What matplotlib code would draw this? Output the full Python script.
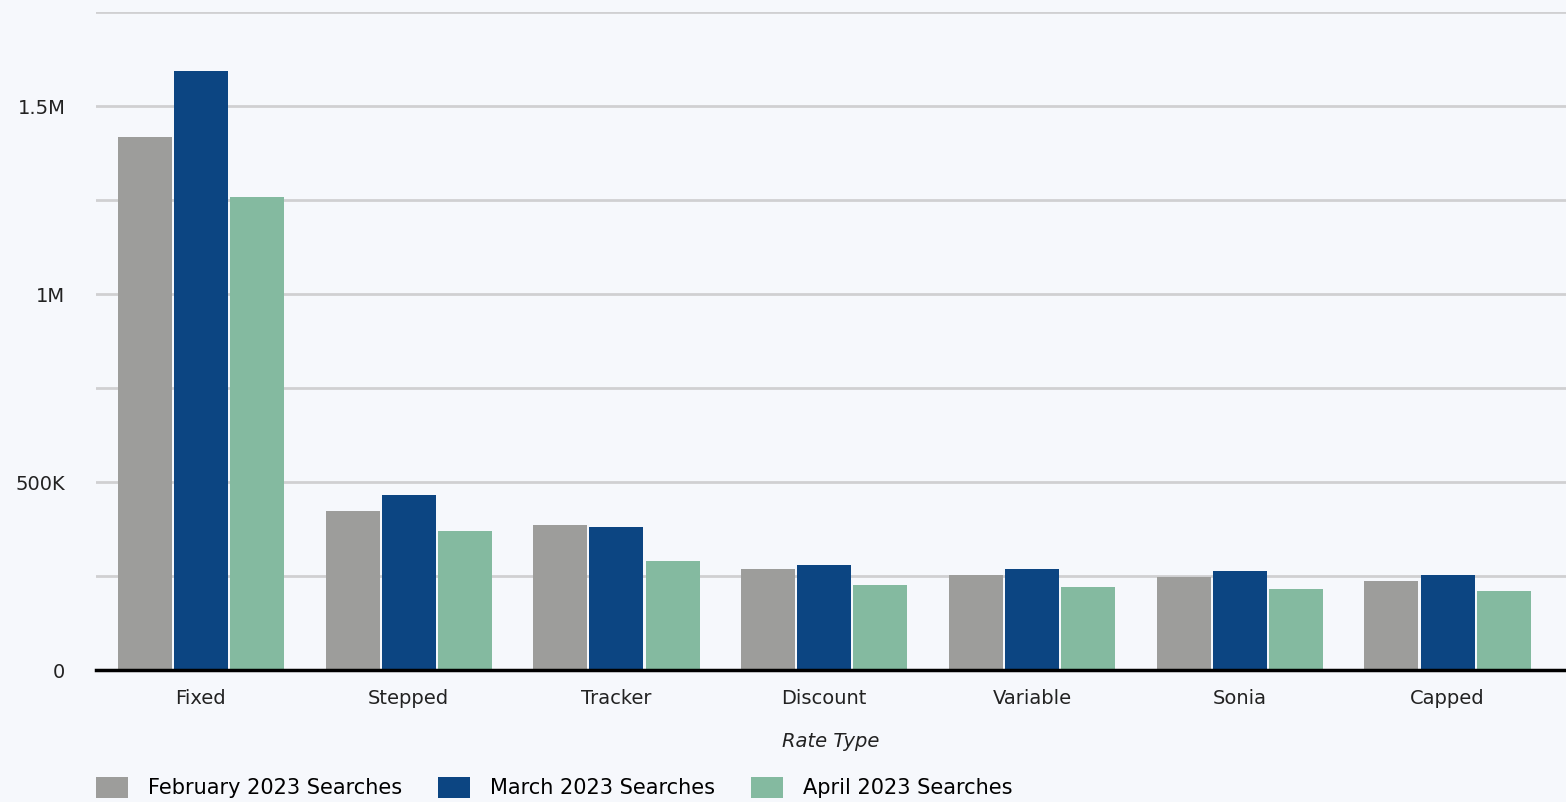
import numpy as np
import matplotlib.pyplot as plt
from matplotlib.ticker import FuncFormatter

# data
rate_types = ["Fixed", "Stepped", "Tracker", "Discount", "Variable", "Sonia", "Capped"]
feb_searches = [1418000, 423000, 386000, 269000, 253000, 247000, 237000]
mar_searches = [1593000, 465000, 380000, 279000, 269000, 263000, 253000]
apr_searches = [1258000, 370000, 290000, 226000, 221000, 215000, 210000]

series_names = ["February 2023 Searches", "March 2023 Searches", "April 2023 Searches"]
colors = ["#9d9d9b", "#0c4582", "#84baa0"]

plt.rcParams["font.family"] = ["DejaVu Sans"]
bg = "#f6f8fc"

fig = plt.figure(figsize=(15.66, 8.02), dpi=100, facecolor=bg)
ax = fig.add_axes([96 / 1566, 132 / 802, 1470 / 1566, 658 / 802], facecolor=bg)

x = np.arange(len(rate_types))
w = 0.26
step = 0.27
for i, (vals, name, c) in enumerate(zip([feb_searches, mar_searches, apr_searches], series_names, colors)):
    ax.bar(x + (i - 1) * step, vals, width=w, color=c, label=name, zorder=3)

ax.set_xlim(-0.505, 6.57)
ax.set_ylim(0, 1750000)
ax.set_yticks(np.arange(0, 1750001, 250000))


def fmt(v, pos):
    if v == 0:
        return "0"
    if v % 500000 != 0:
        return ""
    if v >= 1000000:
        return f"{v / 1e6:g}M"
    return f"{v / 1e3:g}K"


ax.yaxis.set_major_formatter(FuncFormatter(fmt))
ax.grid(axis="y", color="#d0d0d2", linewidth=2, zorder=0)
ax.tick_params(axis="both", length=0, labelsize=14, colors="#222222")
ax.tick_params(axis="y", pad=22)
ax.tick_params(axis="x", pad=14)
ax.set_xticks(x)
ax.set_xticklabels(rate_types)

for s in ["top", "right", "left"]:
    ax.spines[s].set_visible(False)
ax.spines["bottom"].set_linewidth(2.5)
ax.spines["bottom"].set_color("black")
ax.spines["bottom"].set_zorder(4)

ax.set_xlabel("Rate Type", fontsize=14, style="italic", labelpad=17, color="#222222")

ax.legend(loc="lower left", bbox_to_anchor=(0.0, -0.195), ncol=3, frameon=False,
          fontsize=15, handlelength=1.54, handleheight=1.15, columnspacing=1.73,
          handletextpad=0.96, borderaxespad=0, borderpad=0)

plt.savefig("out.png", dpi=100, facecolor=bg)
plt.close()
